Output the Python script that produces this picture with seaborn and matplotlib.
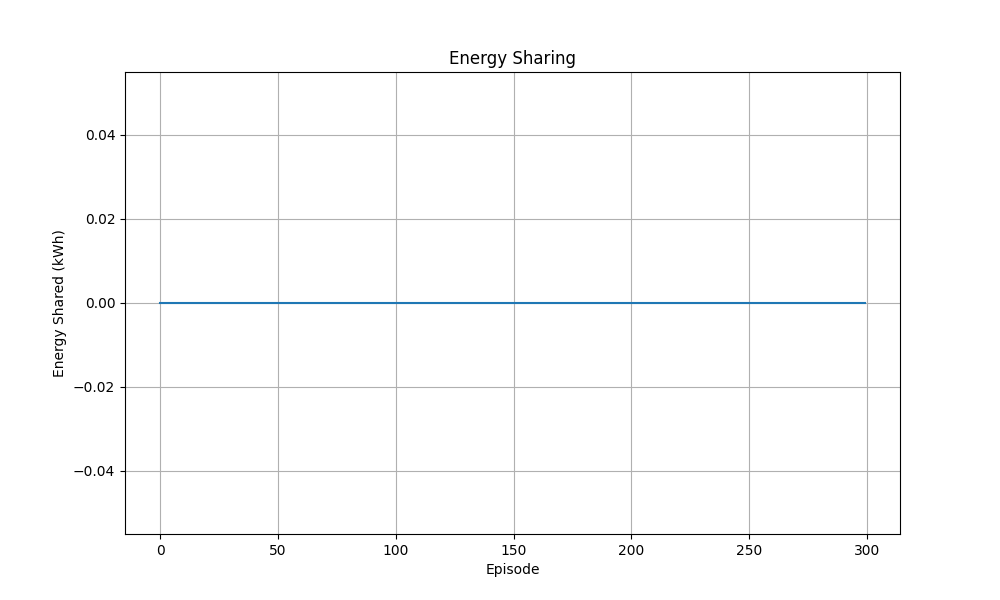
import pandas as pd
import matplotlib
matplotlib.use("Agg")
import matplotlib.pyplot as plt
import seaborn as sns

# --- data: every episode shares nothing ---
episodes = list(range(300))
energy_shared = [0.0] * 300

df = pd.DataFrame({"Episode": episodes, "Energy Shared (kWh)": energy_shared})

fig, ax = plt.subplots(figsize=(10, 6), dpi=100)
sns.lineplot(data=df, x="Episode", y="Energy Shared (kWh)", ax=ax,
             color="#1f77b4", linewidth=1.5)

ax.set_title("Energy Sharing")
ax.set_xlabel("Episode")
ax.set_ylabel("Energy Shared (kWh)")
ax.grid(True)

plt.savefig("out.png")
